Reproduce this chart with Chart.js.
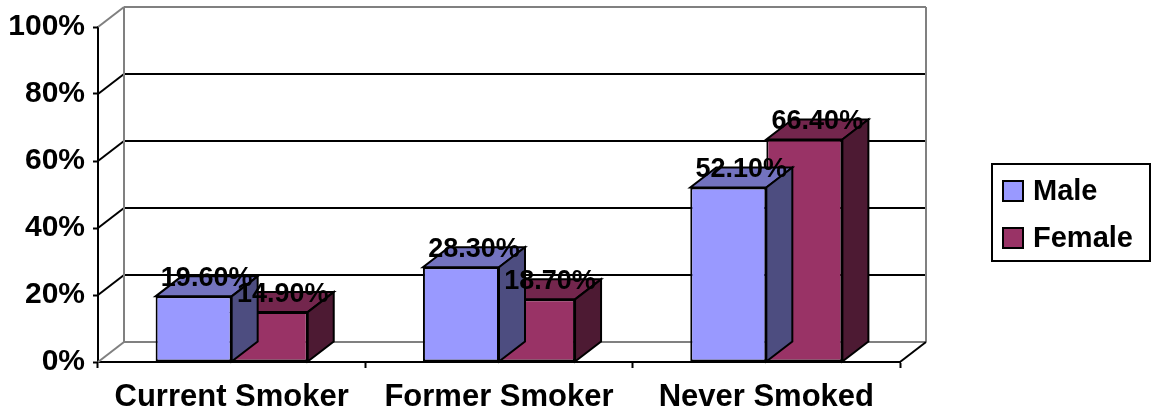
<!DOCTYPE html>
<html>
<head>
<meta charset="utf-8">
<script src="https://cdn.jsdelivr.net/npm/chart.js@4.4.1/dist/chart.umd.min.js"></script>
<style>
html,body{margin:0;padding:0;background:#fff;}
#wrap{width:1151px;height:413px;}
</style>
</head>
<body>
<div id="wrap"><canvas id="c" width="1151" height="413"></canvas></div>
<script>
const categories = ["Current Smoker", "Former Smoker", "Never Smoked"];
const seriesNames = ["Male", "Female"];
const maleValues = [19.6, 28.3, 52.1];
const femaleValues = [14.9, 18.7, 66.4];
const yTicks = [0, 20, 40, 60, 80, 100];

const FONT = '"Liberation Sans", Arial, sans-serif';
const DX = 26, DY = -20;
const colors = {
  front: ["#9999FF", "#993366"],
  top: ["#7373BF", "#73264D"],
  side: ["#4D4D80", "#4D1A33"]
};

function line(ctx, x1, y1, x2, y2, color) {
  ctx.beginPath();
  ctx.moveTo(x1, y1);
  ctx.lineTo(x2, y2);
  ctx.strokeStyle = color;
  ctx.lineWidth = 2;
  ctx.stroke();
}
function poly(ctx, pts, fill) {
  ctx.beginPath();
  ctx.moveTo(pts[0][0], pts[0][1]);
  for (let i = 1; i < pts.length; i++) ctx.lineTo(pts[i][0], pts[i][1]);
  ctx.closePath();
  ctx.fillStyle = fill;
  ctx.fill();
  ctx.strokeStyle = "#000";
  ctx.lineWidth = 2;
  ctx.lineJoin = "miter";
  ctx.stroke();
}

const wallPlugin = {
  id: "wall3d",
  beforeDatasetsDraw(chart) {
    const ctx = chart.ctx;
    const ys = chart.scales.y, xs = chart.scales.x;
    const l = xs.left, r = xs.right;
    ctx.save();
    yTicks.forEach(v => {
      const py = ys.getPixelForValue(v);
      const c = (v === 0 || v === 100) ? "#808080" : "#000";
      line(ctx, l + DX, py + DY, r + DX, py + DY, c);
      line(ctx, l, py, l + DX, py + DY, c);
    });
    const top = ys.getPixelForValue(100), bot = ys.getPixelForValue(0);
    line(ctx, l + DX, top + DY, l + DX, bot + DY, "#808080");
    line(ctx, r + DX, top + DY, r + DX, bot + DY, "#808080");
    line(ctx, r, bot, r + DX, bot + DY, "#000");
    ctx.restore();
  },
  afterDatasetDraw(chart, args) {
    const ctx = chart.ctx;
    const i = args.index;
    const meta = chart.getDatasetMeta(i);
    ctx.save();
    meta.data.forEach(bar => {
      const p = bar.getProps(["x", "y", "base", "width"], true);
      const l = p.x - p.width / 2, r = p.x + p.width / 2;
      const t = Math.min(p.y, p.base), b = Math.max(p.y, p.base);
      poly(ctx, [[l, t], [r, t], [r + DX, t + DY], [l + DX, t + DY]], colors.top[i]);
      poly(ctx, [[r, t], [r + DX, t + DY], [r + DX, b + DY], [r, b]], colors.side[i]);
    });
    ctx.restore();
  },
  afterDatasetsDraw(chart) {
    const ctx = chart.ctx;
    ctx.save();
    ctx.font = "bold 27px " + FONT;
    ctx.fillStyle = "#000";
    ctx.textAlign = "center";
    ctx.textBaseline = "middle";
    chart.data.datasets.forEach((ds, i) => {
      const meta = chart.getDatasetMeta(i);
      meta.data.forEach((bar, j) => {
        const p = bar.getProps(["x", "y"], true);
        ctx.fillText(ds.data[j].toFixed(2) + "%", p.x + 13, p.y - 18);
      });
    });
    ctx.fillStyle = "#fff";
    ctx.fillRect(992, 164, 158, 97);
    ctx.strokeStyle = "#000";
    ctx.lineWidth = 2;
    ctx.strokeRect(992, 164, 158, 97);
    ctx.textAlign = "left";
    ctx.font = "bold 29px " + FONT;
    chart.data.datasets.forEach((ds, i) => {
      const cy = 191 + i * 47;
      ctx.fillStyle = colors.front[i];
      ctx.fillRect(1003, cy - 10, 20, 20);
      ctx.strokeRect(1003, cy - 10, 20, 20);
      ctx.fillStyle = "#000";
      ctx.fillText(ds.label, 1033, cy + 1);
    });
    ctx.restore();
  }
};

new Chart(document.getElementById("c"), {
  type: "bar",
  data: {
    labels: categories,
    datasets: [
      { label: seriesNames[0], data: maleValues, backgroundColor: colors.front[0] },
      { label: seriesNames[1], data: femaleValues, backgroundColor: colors.front[1] }
    ]
  },
  options: {
    responsive: false,
    animation: false,
    events: [],
    layout: { padding: { left: 0, top: 27, right: 251, bottom: 0 } },
    datasets: {
      bar: {
        categoryPercentage: 0.569,
        barPercentage: 1.0,
        borderColor: "#000",
        borderWidth: 2,
        borderSkipped: false
      }
    },
    plugins: {
      legend: { display: false },
      tooltip: { enabled: false }
    },
    scales: {
      x: {
        afterFit(s) { s.height = 51; },
        grid: {
          display: true,
          offset: true,
          drawOnChartArea: false,
          drawTicks: true,
          tickLength: 6,
          tickColor: "#000",
          tickWidth: 2
        },
        border: { display: true, color: "#000", width: 2 },
        ticks: {
          color: "#000",
          padding: 11,
          maxRotation: 0,
          font: { family: FONT, size: 31, weight: "bold" }
        }
      },
      y: {
        min: 0,
        max: 100,
        afterFit(s) { s.width = 98; },
        afterBuildTicks(s) { s.ticks = yTicks.map(v => ({ value: v })); },
        grid: {
          display: true,
          drawOnChartArea: false,
          drawTicks: true,
          tickLength: 5,
          tickColor: "#000",
          tickWidth: 2
        },
        border: { display: true, color: "#000", width: 2 },
        ticks: {
          color: "#000",
          padding: 8,
          callback: v => v + "%",
          font: { family: FONT, size: 30, weight: "bold" }
        }
      }
    }
  },
  plugins: [wallPlugin]
});
</script>
</body>
</html>
